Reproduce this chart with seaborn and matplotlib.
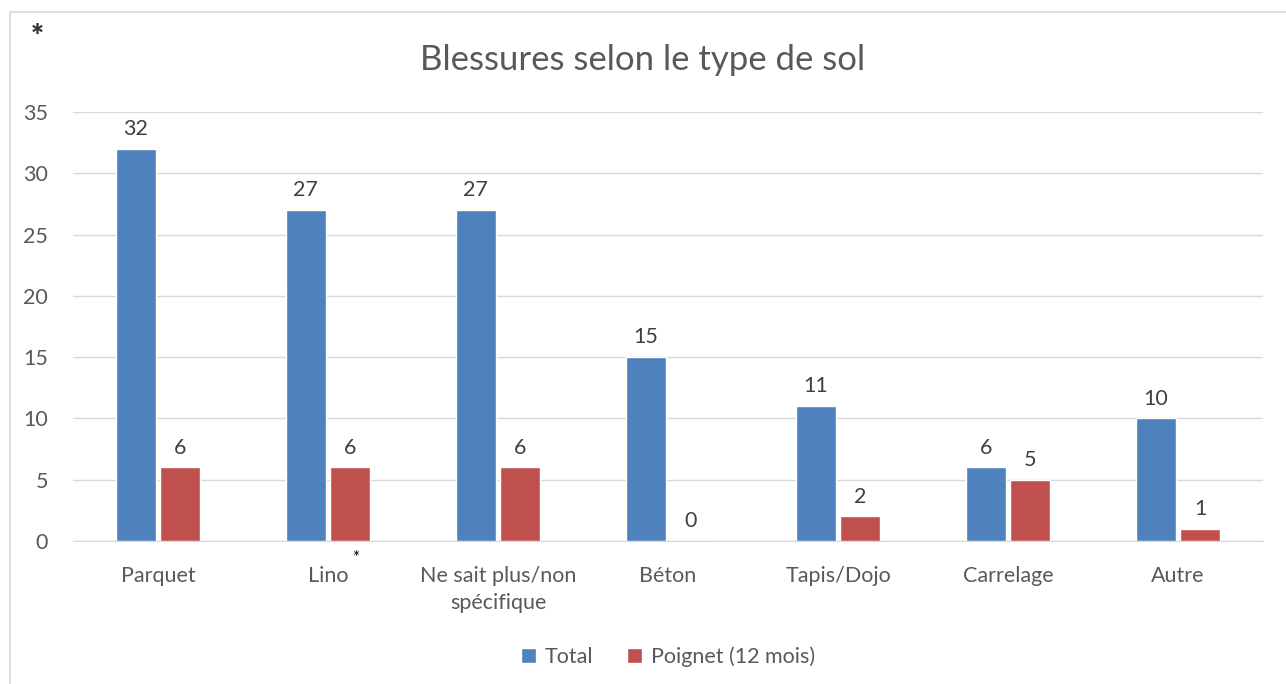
import seaborn as sns
import matplotlib.pyplot as plt
import matplotlib.patches as mpatches
import pandas as pd

categories = ["Parquet", "Lino", "Ne sait plus/non\nspécifique", "Béton",
              "Tapis/Dojo", "Carrelage", "Autre"]
total = [32, 27, 27, 15, 11, 6, 10]
poignet = [6, 6, 6, 0, 2, 5, 1]
series = ["Total", "Poignet (12 mois)"]

df = pd.DataFrame({
    "sol": categories * 2,
    "valeur": total + poignet,
    "serie": [series[0]] * len(categories) + [series[1]] * len(categories),
})

sns.set_style("white")
plt.rcParams["font.family"] = ["Lato", "DejaVu Sans"]
grey = "#595959"

fig = plt.figure(figsize=(12.86, 6.84), dpi=100)
ax = fig.add_axes([73 / 1286, 1 - 541 / 684, 1190 / 1286, (541 - 112) / 684])

sns.barplot(data=df, x="sol", y="valeur", hue="serie", ax=ax,
            palette=["#4F81BD", "#C0504D"], width=0.52, gap=0.1,
            saturation=1, legend=True)

for c in ax.containers:
    ax.bar_label(c, padding=7, fontsize=15.5, color="#404040")

ax.set_ylim(0, 35)
ax.set_yticks(range(0, 36, 5))
ax.yaxis.grid(True, color="#D9D9D9", linewidth=1)
ax.set_axisbelow(True)
for s in ["top", "right", "left"]:
    ax.spines[s].set_visible(False)
ax.spines["bottom"].set_color("#D9D9D9")
ax.tick_params(axis="both", length=0, labelsize=15.5, colors=grey)
ax.tick_params(axis="x", pad=18)
ax.tick_params(axis="y", pad=18)
for t in ax.get_xticklabels():
    t.set_linespacing(1.45)
ax.set_xlabel("")
ax.set_ylabel("")

ax.legend(loc="center", bbox_to_anchor=(0.5, -0.27), ncol=2, frameon=False,
          fontsize=15.5, handlelength=0.7, handleheight=0.7, columnspacing=1.6,
          handletextpad=0.4, labelcolor=grey)

fig.text(0.5, 1 - 60 / 684, "Blessures selon le type de sol", ha="center",
         va="center", fontsize=25, color=grey)
fig.text(37 / 1286, 1 - 37 / 684, "*", ha="center", va="center", fontsize=22,
         color="#333333", fontweight="heavy")
fig.text(356 / 1286, 1 - 558 / 684, "*", ha="center", va="center", fontsize=12,
         color="#000000")

fig.patches.append(mpatches.Rectangle((10 / 1286, -0.1), 1.2, 1 - 12 / 684 + 0.1,
                                      transform=fig.transFigure, fill=False,
                                      edgecolor="#D9D9D9", linewidth=1.2))

fig.savefig("out.png", dpi=100)
